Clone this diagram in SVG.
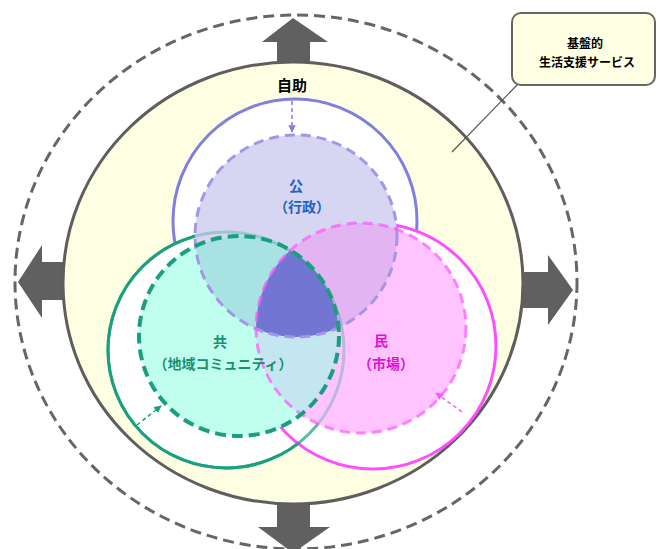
<svg xmlns="http://www.w3.org/2000/svg" width="663" height="549" viewBox="0 0 663 549">
<style>
.lbl{font-family:"Noto Sans CJK JP","Noto Sans",sans-serif;font-weight:bold;text-anchor:middle}
.arr{fill:#606060}
</style>
<defs>
<clipPath id="cb"><circle cx="296" cy="236" r="101"/></clipPath>
<clipPath id="cg"><circle cx="239" cy="336" r="100"/></clipPath>
<marker id="mb" viewBox="0 0 10 10" refX="9" refY="5" markerWidth="5" markerHeight="5" orient="auto"><path d="M0,0 L10,5 L0,10 z" fill="#8080E0"/></marker>
<marker id="mg" viewBox="0 0 10 10" refX="9" refY="5" markerWidth="5" markerHeight="5" orient="auto"><path d="M0,0 L10,5 L0,10 z" fill="#1A9E80"/></marker>
<marker id="mp" viewBox="0 0 10 10" refX="9" refY="5" markerWidth="5" markerHeight="5" orient="auto"><path d="M0,0 L10,5 L0,10 z" fill="#FF55FF"/></marker>
</defs>
<rect width="663" height="549" fill="#FFFFFF"/>
<g id="outer">
<ellipse cx="296" cy="282" rx="281" ry="267" fill="none" stroke="#666666" stroke-width="3" stroke-dasharray="11 6"/>
</g>
<g id="arrows">
<polygon class="arr" points="277,70 277,42 262,42 293,18 328,42 310,42 310,70"/>
<polygon class="arr" points="277,495 277,527 258,527 293,553 330,527 310,527 310,495"/>
<polygon class="arr" points="70,262 42,262 42,245 18,282 42,318 42,300 70,300"/>
<polygon class="arr" points="515,272 548,272 548,255 573,290 548,325 548,308 515,308"/>
</g>
<g id="jijo">
<ellipse cx="293" cy="283" rx="230" ry="221" fill="#FEFEE2" stroke="#5E5E5E" stroke-width="3"/>
<text class="lbl" x="292" y="91" font-size="15" fill="#000">自助</text>
</g>
<g id="solid">
<circle cx="295" cy="221" r="122" fill="#FFFFFF" stroke="#7F7FDF" stroke-width="3"/>
<circle cx="226" cy="350" r="118" fill="#FFFFFF" stroke="#1AA080" stroke-width="3"/>
<circle cx="373" cy="346" r="123" fill="#FFFFFF" stroke="#FF4DFF" stroke-width="3"/>
<circle cx="226" cy="350" r="118" fill="none" stroke="#1AA080" stroke-width="3" stroke-opacity="0.6"/>
</g>
<g id="fills">
<circle cx="296" cy="236" r="101" fill="#D6D6F2"/>
<circle cx="239" cy="336" r="100" fill="#C0FFEE"/>
<circle cx="361" cy="328" r="105" fill="#FFC4FF"/>
<circle cx="239" cy="336" r="100" fill="#A8E2E2" clip-path="url(#cb)"/>
<circle cx="361" cy="328" r="105" fill="#E2B4F2" clip-path="url(#cb)"/>
<circle cx="361" cy="328" r="105" fill="#C4E6F0" clip-path="url(#cg)"/>
<g clip-path="url(#cb)"><circle cx="361" cy="328" r="105" fill="#7276D2" clip-path="url(#cg)"/></g>
<circle cx="226" cy="350" r="118" fill="none" stroke="#1AA080" stroke-width="3" stroke-opacity="0.3"/>
</g>
<g id="ko">
<circle cx="296" cy="236" r="101" fill="none" stroke="#A595E6" stroke-width="3" stroke-dasharray="10 6"/>
<text class="lbl" x="296" y="191" font-size="14" fill="#2060C0">公</text>
<text class="lbl" x="302" y="212" font-size="14" fill="#2060C0">（行政）</text>
</g>
<g id="min">
<circle cx="361" cy="328" r="105" fill="none" stroke="#FF55FF" stroke-opacity="0.7" stroke-width="3" stroke-dasharray="10 6"/>
<text class="lbl" x="381" y="346" font-size="14" fill="#E010D8">民</text>
<text class="lbl" x="386" y="369" font-size="14" fill="#E010D8">（市場）</text>
</g>
<g id="kyo">
<circle cx="239" cy="336" r="100" fill="none" stroke="#1A9E80" stroke-width="4" stroke-dasharray="11 6"/>
<text class="lbl" x="220" y="347" font-size="14" fill="#1A9070">共</text>
<text class="lbl" x="223" y="369" font-size="14" fill="#1A9070">（地域コミュニティ）</text>
</g>
<g id="connectors">
<line x1="292" y1="101" x2="292" y2="132" stroke="#8080E0" stroke-width="1.5" stroke-dasharray="4 3" marker-end="url(#mb)"/>
<line x1="137" y1="425" x2="161" y2="406" stroke="#1A9E80" stroke-width="1.5" stroke-dasharray="4 3" marker-end="url(#mg)"/>
<line x1="462" y1="412" x2="436" y2="393" stroke="#FF55FF" stroke-width="1.5" stroke-dasharray="4 3" marker-end="url(#mp)"/>
<line x1="518" y1="84" x2="452" y2="152" stroke="#555555" stroke-width="1.2"/>
</g>
<g id="callout">
<rect x="512" y="13" width="143" height="72" rx="9" fill="#FFFFE3" stroke="#666666" stroke-width="2"/>
<text class="lbl" x="585" y="48" font-size="12" fill="#000">基盤的</text>
<text class="lbl" x="587" y="67" font-size="12" fill="#000">生活支援サービス</text>
</g>
</svg>
